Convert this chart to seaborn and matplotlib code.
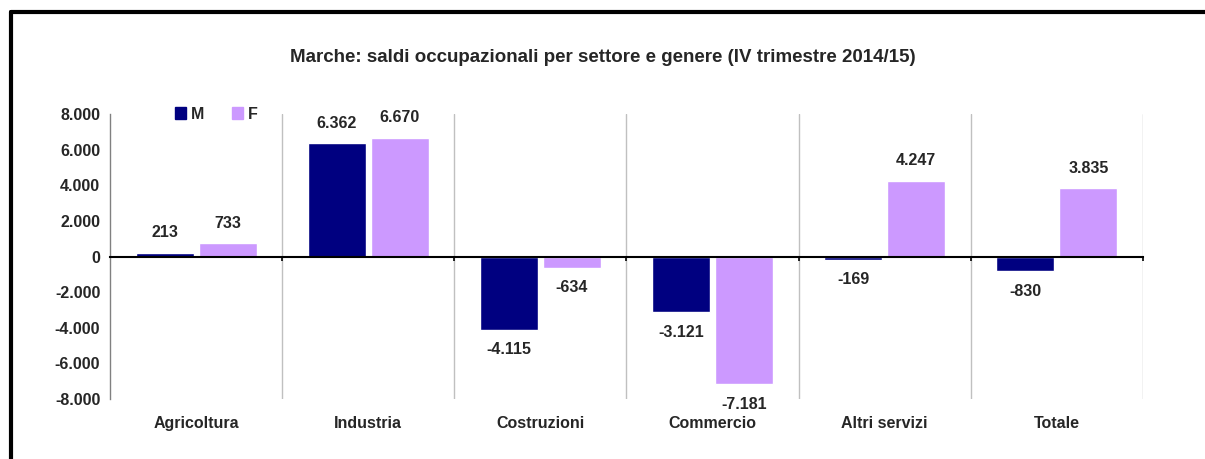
import pandas as pd
import matplotlib.pyplot as plt
import seaborn as sns
from matplotlib.lines import Line2D
from matplotlib.patches import Patch
from matplotlib.ticker import FuncFormatter

sns.set_style("white")
plt.rcParams['font.family'] = ['Liberation Sans', 'DejaVu Sans']
plt.rcParams['font.weight'] = 'bold'

# Data
settori = ["Agricoltura", "Industria", "Costruzioni", "Commercio", "Altri servizi", "Totale"]
saldi_m = [213, 6362, -4115, -3121, -169, -830]
saldi_f = [733, 6670, -634, -7181, 4247, 3835]
generi = ["M", "F"]
colori = {"M": "#000080", "F": "#CC99FF"}

df = pd.DataFrame({
    "Settore": settori * 2,
    "Saldo": saldi_m + saldi_f,
    "Genere": ["M"] * len(settori) + ["F"] * len(settori),
})

def it_num(v):
    return f"{int(v):,}".replace(",", ".")

fig = plt.figure(figsize=(12.05, 4.59), dpi=100)
ax = fig.add_axes([0.0913, 0.1307, 0.8572, 0.6209])

sns.barplot(data=df, x="Settore", y="Saldo", hue="Genere", hue_order=generi,
            palette=colori, width=0.733, gap=0.08, saturation=1, ax=ax)

ax.set_xlim(-0.5, len(settori) - 0.5)
ax.set_ylim(-8000, 8000)
ax.set_yticks(range(-8000, 8001, 2000))
ax.yaxis.set_major_formatter(FuncFormatter(lambda v, p: it_num(v)))
ax.set_xlabel("")
ax.set_ylabel("")

# separators between sectors
bounds = [i + 0.5 for i in range(len(settori))]
ax.set_xticks(bounds, minor=True)
ax.grid(which="minor", axis="x", color="#c0c0c0", linewidth=1)
ax.tick_params(axis="x", which="major", length=0, pad=12, labelsize=11.5)
ax.tick_params(axis="y", which="major", length=4, width=1, color="#808080",
               direction="out", labelsize=11.5, pad=3)

# zero line with small ticks pointing down
ax.spines["top"].set_position(("data", 0))
ax.spines["top"].set_color("black")
ax.spines["top"].set_linewidth(1.5)
ax.tick_params(axis="x", which="minor", top=True, bottom=False,
               direction="in", length=3, width=1.2, color="black")
for s in ["right", "bottom"]:
    ax.spines[s].set_visible(False)
ax.spines["left"].set_color("#808080")
ax.spines["left"].set_linewidth(1)

for lab in ax.get_xticklabels() + ax.get_yticklabels():
    lab.set_fontweight("bold")

for cont in ax.containers:
    ax.bar_label(cont, labels=[it_num(b.get_height()) for b in cont],
                 padding=9, fontsize=11.5, fontweight="bold")

ax.legend_.remove()
handles = [Patch(color=colori[g]) for g in generi]
fig.legend(handles, generi, loc="center left", bbox_to_anchor=(0.1387, 0.7516),
           ncol=2, frameon=False, handlelength=0.7, handleheight=0.7,
           handletextpad=0.3, columnspacing=1.7, borderpad=0,
           prop={"weight": "bold", "size": 11.5})

fig.suptitle("Marche: saldi occupazionali per settore e genere (IV trimestre 2014/15)",
             x=0.5, y=0.874, va="center", fontsize=13.5, fontweight="bold")

# outer frame (top and left)
fig.add_artist(Line2D([0.0095, 1.0], [0.9728, 0.9728], color="black", linewidth=3))
fig.add_artist(Line2D([0.0095, 0.0095], [0.0, 0.9728], color="black", linewidth=3))

fig.savefig("out.png", dpi=100, facecolor="white")
